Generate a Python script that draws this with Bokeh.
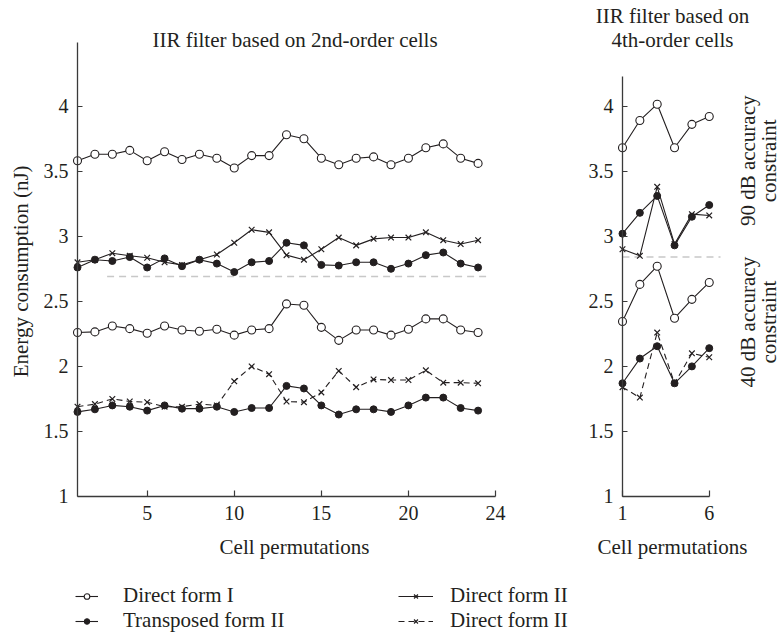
import math
from bokeh.plotting import figure
from bokeh.layouts import row, column
from bokeh.models import Legend, LegendItem, Label, FixedTicker, Range1d, LinearAxis
from bokeh.embed import file_html
from bokeh.resources import INLINE

# ---------------- data ----------------
perm24 = list(range(1, 25))
perm6 = list(range(1, 7))

# 2nd-order cells, 90 dB accuracy constraint
dfi_90_2nd = [3.58, 3.63, 3.63, 3.66, 3.58, 3.65, 3.59, 3.63, 3.60, 3.525, 3.62, 3.62,
              3.78, 3.75, 3.60, 3.55, 3.60, 3.61, 3.55, 3.60, 3.68, 3.71, 3.60, 3.56]
dfii_90_2nd = [2.80, 2.82, 2.87, 2.85, 2.835, 2.80, 2.78, 2.82, 2.86, 2.95, 3.05, 3.03,
               2.855, 2.82, 2.90, 2.99, 2.93, 2.98, 2.99, 2.99, 3.03, 2.97, 2.94, 2.97]
tfii_90_2nd = [2.76, 2.82, 2.81, 2.84, 2.76, 2.83, 2.77, 2.82, 2.79, 2.725, 2.80, 2.81,
               2.95, 2.93, 2.78, 2.775, 2.80, 2.80, 2.75, 2.79, 2.855, 2.875, 2.79, 2.76]
# 2nd-order cells, 40 dB accuracy constraint
dfi_40_2nd = [2.26, 2.265, 2.31, 2.29, 2.255, 2.31, 2.28, 2.27, 2.285, 2.24, 2.28, 2.29,
              2.48, 2.47, 2.30, 2.20, 2.28, 2.28, 2.24, 2.285, 2.365, 2.365, 2.28, 2.26]
dfii_40_2nd = [1.69, 1.71, 1.75, 1.73, 1.725, 1.69, 1.69, 1.71, 1.70, 1.885, 2.00, 1.94,
               1.73, 1.725, 1.80, 1.965, 1.84, 1.90, 1.895, 1.895, 1.97, 1.875, 1.875, 1.87]
tfii_40_2nd = [1.65, 1.67, 1.70, 1.69, 1.66, 1.70, 1.675, 1.675, 1.69, 1.65, 1.68, 1.68,
               1.85, 1.83, 1.70, 1.63, 1.67, 1.67, 1.65, 1.70, 1.76, 1.76, 1.68, 1.66]

# 4th-order cells
dfi_90_4th = [3.68, 3.89, 4.015, 3.68, 3.86, 3.92]
tfii_90_4th = [3.02, 3.18, 3.31, 2.93, 3.15, 3.24]
dfii_90_4th = [2.90, 2.85, 3.38, 2.94, 3.17, 3.16]
dfi_40_4th = [2.345, 2.63, 2.77, 2.37, 2.515, 2.645]
tfii_40_4th = [1.87, 2.06, 2.155, 1.87, 2.00, 2.14]
dfii_40_4th = [1.84, 1.76, 2.26, 1.87, 2.10, 2.07]

# dashed separator lines
sep_left_x = [2.7, 24.6]
sep_left_y = [2.69, 2.69]
sep_right_x = [1.0, 6.65]
sep_right_y = [2.84, 2.84]

y_ticks = [1, 1.5, 2, 2.5, 3, 3.5, 4]
left_x_ticks = [5, 10, 15, 20, 25]
left_x_labels = {25: "24"}
right_x_ticks = [1, 6]

INK = "#231f20"
AXC = "#3a3a3a"
FONT = "Liberation Serif"
FS = "21px"

# shared vertical extent: both frames fill their canvases (0..570 px)
Y_LO, Y_HI = 0.4312, 4.812


def style_axis(ax, xdir):
    ax.axis_line_color = AXC
    ax.axis_line_width = 1.3
    ax.major_tick_line_color = AXC
    ax.major_tick_line_width = 1.2
    ax.minor_tick_line_color = None
    ax.major_label_text_font = FONT
    ax.major_label_text_font_size = "20px"
    ax.major_label_text_color = INK
    ax.major_tick_out = 0
    if xdir:
        ax.major_tick_in = 6
        ax.major_label_standoff = 10
    else:
        ax.major_tick_in = 5
        ax.major_label_standoff = 9


def make_fig(width, x_range, xticks, xbounds, ybounds, overrides=None):
    p = figure(width=width, height=570, output_backend="svg", toolbar_location=None,
               x_range=x_range, y_range=Range1d(Y_LO, Y_HI),
               x_axis_location=None, y_axis_location=None,
               min_border_left=0, min_border_right=0, min_border_top=0,
               min_border_bottom=0)
    p.background_fill_color = "white"
    p.border_fill_color = "white"
    p.outline_line_color = None
    p.xgrid.visible = False
    p.ygrid.visible = False
    yax = LinearAxis(fixed_location=1, ticker=FixedTicker(ticks=y_ticks), bounds=ybounds)
    xax = LinearAxis(fixed_location=1, ticker=FixedTicker(ticks=xticks), bounds=xbounds)
    if overrides:
        xax.major_label_overrides = overrides
    style_axis(xax, True)
    style_axis(yax, False)
    p.add_layout(yax, "left")
    p.add_layout(xax, "below")
    return p


def series(p, x, y, kind, dashed=False):
    dash = "6 4" if dashed else "solid"
    lr = p.line(x, y, line_color=INK, line_width=1.1, line_dash=dash)
    if kind == "open":
        sr = p.scatter(x, y, marker="circle", size=8, fill_color="white",
                       line_color=INK, line_width=1.1)
    elif kind == "filled":
        sr = p.scatter(x, y, marker="circle", size=7, fill_color=INK,
                       line_color=INK, line_width=1)
    else:
        sr = p.scatter(x, y, marker="x", size=8, line_color=INK, line_width=1.2)
    return lr, sr


def text(p, x, y, t, angle=0.0):
    p.add_layout(Label(x=x, y=y, text=t, angle=angle, text_align="center",
                       text_baseline="middle", text_font=FONT,
                       text_font_size=FS, text_color=INK))


# ---------------- left figure ----------------
p1 = make_fig(575, Range1d(-3.421, 29.593), left_x_ticks, (1, 25), (1, 4.49),
              left_x_labels)

p1.line(sep_left_x, sep_left_y, line_color="#c8c8c8", line_width=1.5, line_dash="7 5")

series(p1, perm24, dfii_90_2nd, "x")
series(p1, perm24, tfii_90_2nd, "filled")
series(p1, perm24, dfi_90_2nd, "open")
series(p1, perm24, dfii_40_2nd, "x", dashed=True)
series(p1, perm24, tfii_40_2nd, "filled")
series(p1, perm24, dfi_40_2nd, "open")

text(p1, 13.49, 4.508, "IIR filter based on 2nd-order cells")
text(p1, 13.46, 0.608, "Cell permutations")
text(p1, -2.27, 2.73, "Energy consumption (nJ)", math.pi / 2)

# ---------------- right figure ----------------
p2 = make_fig(205, Range1d(-1.709, 10.107), right_x_ticks, (1, 6), (1, 4.23))

p2.line(sep_right_x, sep_right_y, line_color="#c8c8c8", line_width=1.5, line_dash="7 5")

series(p2, perm6, dfii_90_4th, "x")
series(p2, perm6, tfii_90_4th, "filled")
series(p2, perm6, dfi_90_4th, "open")
series(p2, perm6, dfii_40_4th, "x", dashed=True)
series(p2, perm6, tfii_40_4th, "filled")
series(p2, perm6, dfi_40_4th, "open")

text(p2, 3.88, 4.69, "IIR filter based on")
text(p2, 3.88, 4.51, "4th-order cells")
text(p2, 3.88, 0.608, "Cell permutations")
text(p2, 8.26, 3.58, "90 dB accuracy", math.pi / 2)
text(p2, 9.45, 3.58, "constraint", math.pi / 2)
text(p2, 8.26, 2.34, "40 dB accuracy", math.pi / 2)
text(p2, 9.45, 2.34, "constraint", math.pi / 2)

# ---------------- legend strip ----------------
p3 = figure(width=780, height=63, output_backend="svg", toolbar_location=None,
            x_range=Range1d(0, 1), y_range=Range1d(0, 1),
            x_axis_type=None, y_axis_type=None,
            min_border_left=0, min_border_right=0, min_border_top=0,
            min_border_bottom=0)
p3.background_fill_color = "white"
p3.border_fill_color = "white"
p3.outline_line_color = None
p3.xgrid.visible = False
p3.ygrid.visible = False

# legend key renderers (their data lies outside this strip's visible range)
leg_dfi = series(p3, perm6, dfi_90_4th, "open")
leg_tf = series(p3, perm6, tfii_90_4th, "filled")
leg_dfii = series(p3, perm6, dfii_90_4th, "x")
leg_dfii_d = series(p3, perm6, dfii_40_4th, "x", dashed=True)

leg1 = Legend(items=[LegendItem(label="Direct form I", renderers=list(leg_dfi)),
                     LegendItem(label="Transposed form II", renderers=list(leg_tf))],
              location=(75, 0), glyph_width=23, glyph_height=14, label_standoff=25)
leg2 = Legend(items=[LegendItem(label="Direct form II", renderers=list(leg_dfii)),
                     LegendItem(label="Direct form II", renderers=list(leg_dfii_d))],
              location=(398, 0), glyph_width=35, glyph_height=14, label_standoff=17)
for lg in (leg1, leg2):
    lg.padding = 0
    lg.margin = 0
    lg.spacing = 0
    lg.border_line_color = None
    lg.background_fill_alpha = 0
    lg.label_text_font = FONT
    lg.label_text_font_size = FS
    lg.label_text_color = INK
    lg.label_height = 20
    p3.add_layout(lg)

layout = column(row(p1, p2), p3)
open("out.html", "w").write(file_html(layout, INLINE))
